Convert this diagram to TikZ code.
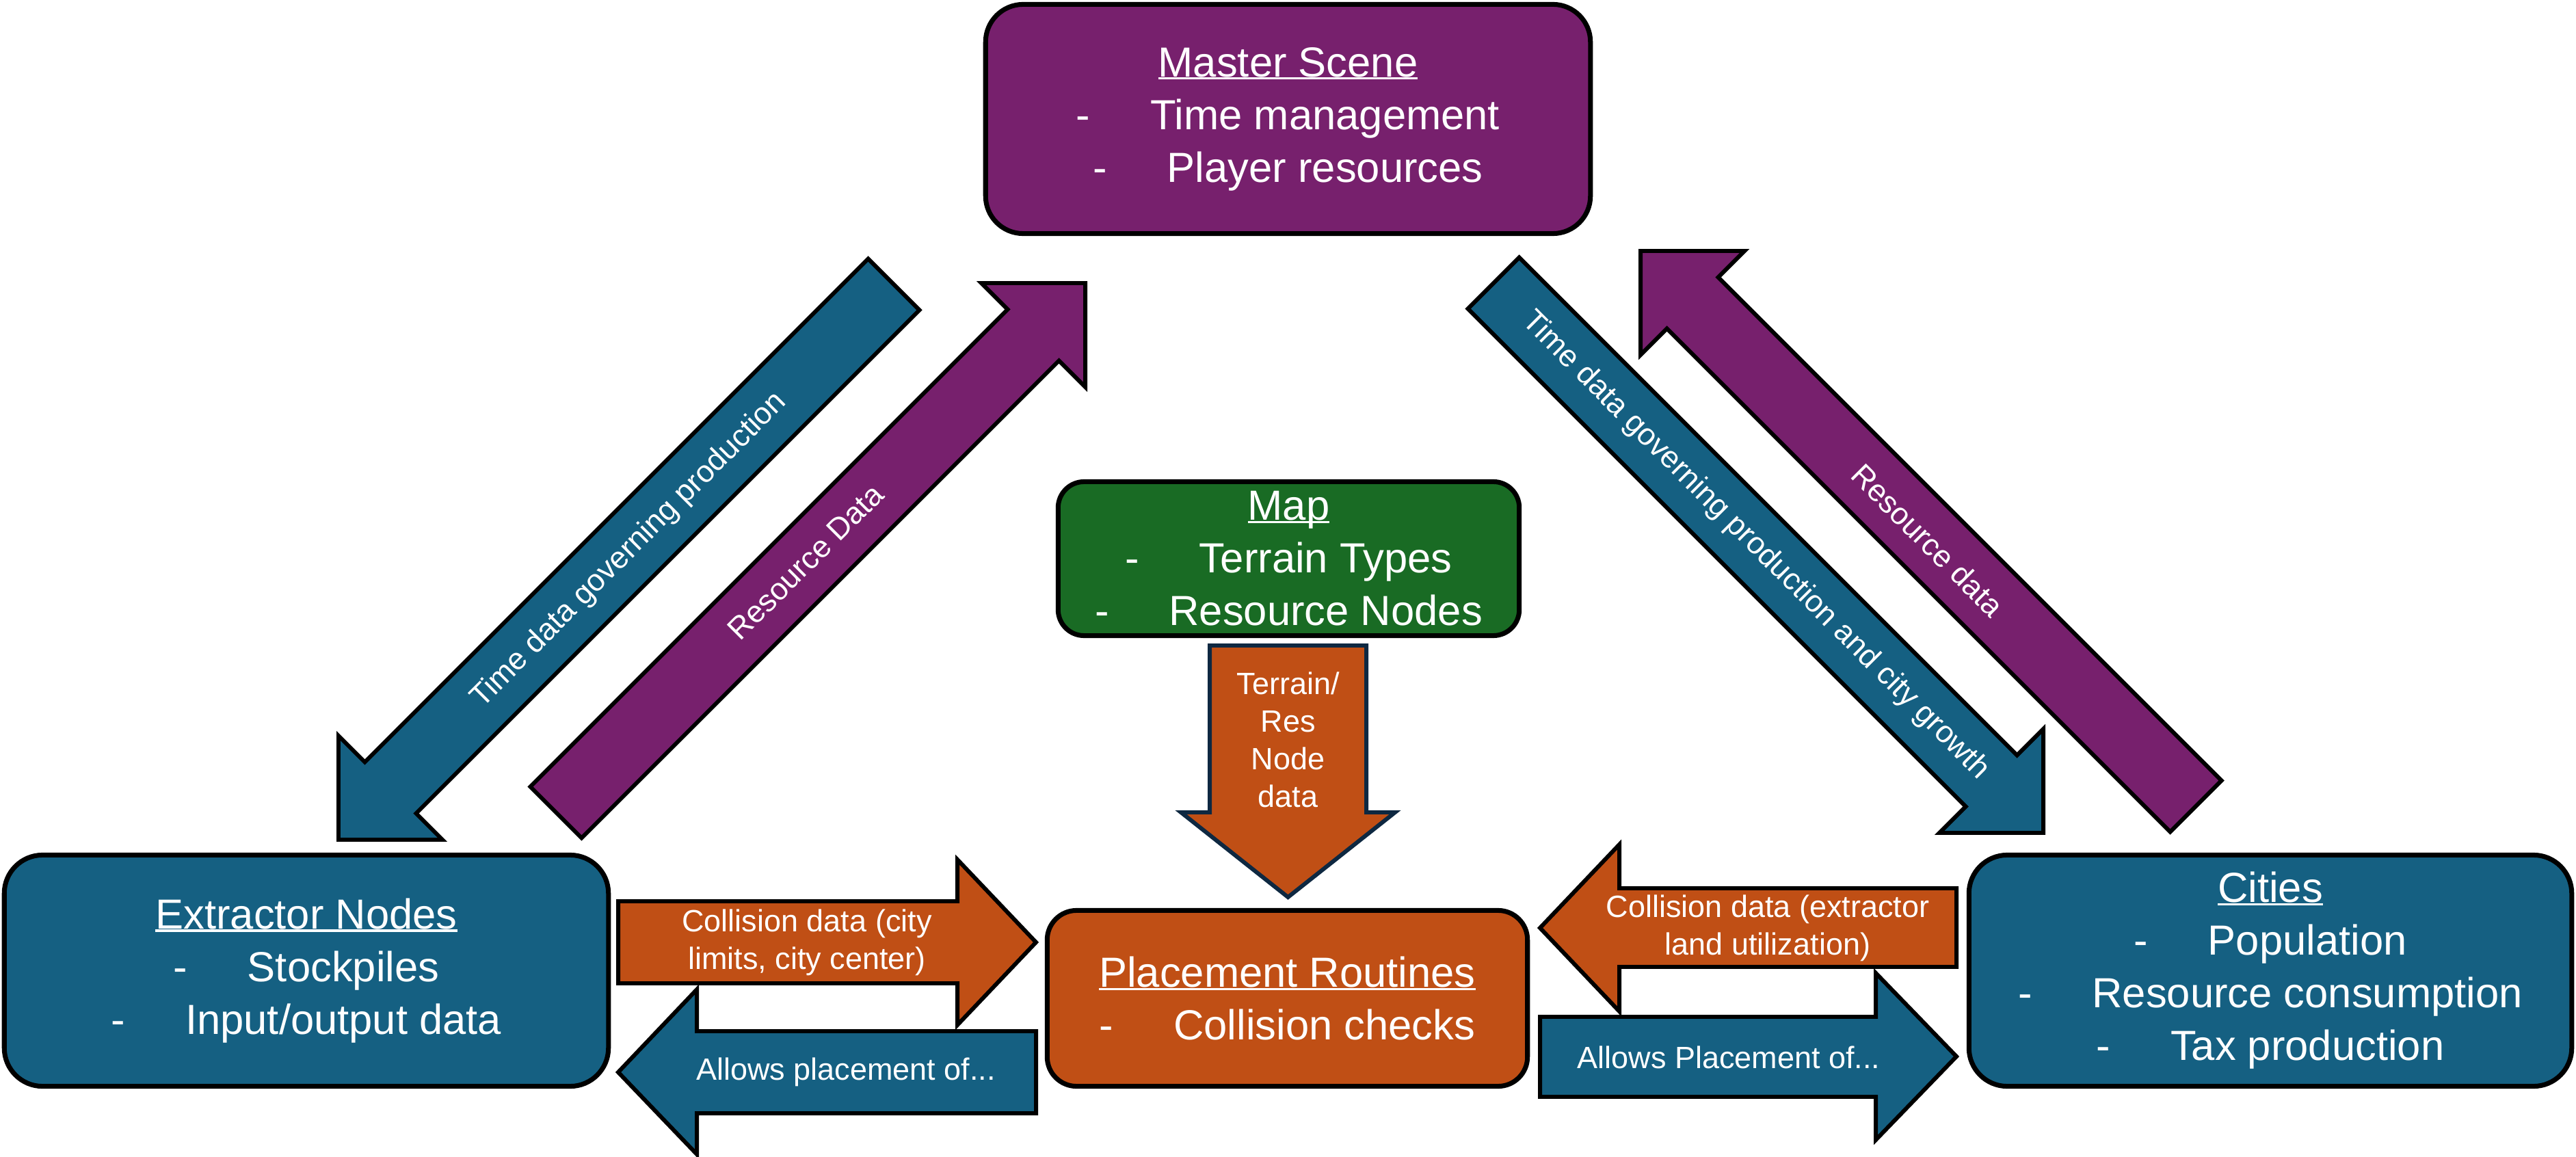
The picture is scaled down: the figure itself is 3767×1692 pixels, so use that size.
\documentclass[tikz,border=0pt]{standalone}
\usepackage{fontspec}
\setmainfont{Liberation Sans}
\definecolor{ppurple}{HTML}{77206D}
\definecolor{pblue}{HTML}{156082}
\definecolor{porange}{HTML}{C04F15}
\definecolor{pgreen}{HTML}{196B24}
\definecolor{pnavy}{HTML}{0E2841}
\newcommand\bigtxt{\fontsize{17.5pt}{21.9pt}\selectfont}
\newcommand\smtxt{\fontsize{12.8pt}{15.6pt}\selectfont}
\newsavebox\ulbox
\newcommand\myul[1]{\sbox\ulbox{#1}\rlap{\rule[-1.2pt]{\wd\ulbox}{0.9pt}}\usebox\ulbox}
\newcommand\bl[1]{-\hspace{25pt}#1}
\tikzset{
  box/.style={draw=black, line width=2pt, text=white, align=center, font=\bigtxt, inner sep=0pt},
  blockarrow/.style={draw=black, line width=1.7pt, line join=miter},
  arrowtext/.style={text=white, align=center, font=\smtxt, inner sep=0pt},
}
\begin{document}
\begin{tikzpicture}[x=0.01cm,y=-0.01cm]
\useasboundingbox (0,0) rectangle (3767,1692);
\fill[white] (0,0) rectangle (3767,1692);

% boxes
\node[box, fill=ppurple, minimum width=8.84cm, minimum height=3.35cm, rounded corners=0.55cm] (master) at (1883.5,174)
  {\myul{Master Scene}\\ \bl{Time management}\\ \bl{Player resources}};
\node[box, fill=pgreen, minimum width=6.74cm, minimum height=2.25cm, rounded corners=0.38cm] (map) at (1884.5,817)
  {\myul{Map}\\ \bl{Terrain Types}\\ \bl{Resource Nodes}};
\node[box, fill=porange, minimum width=7.02cm, minimum height=2.57cm, rounded corners=0.43cm] (place) at (1882.5,1460)
  {\myul{Placement Routines}\\ \bl{Collision checks}};
\node[box, fill=pblue, minimum width=8.83cm, minimum height=3.38cm, rounded corners=0.56cm] (extr) at (448,1419.5)
  {\myul{Extractor Nodes}\\ \bl{Stockpiles}\\ \bl{Input/output data}};
\node[box, fill=pblue, minimum width=8.81cm, minimum height=3.38cm, rounded corners=0.56cm] (cities) at (3320,1419.5)
  {\myul{Cities}\\ \bl{Population}\\ \bl{Resource consumption}\\ \bl{Tax production}};

% diagonal block arrows
\draw[blockarrow, fill=pblue] (1269.5,378.5) -- (533.5,1114.5) -- (495,1076) -- (495,1228) -- (647,1228) -- (608.5,1189.5) -- (1344.5,453.5) -- cycle;
\node[arrowtext, rotate=45] (t1) at (920,805) {Time data governing production};

\draw[blockarrow, fill=ppurple] (775.5,1150.5) -- (1473.5,452.5) -- (1435,414) -- (1587,414) -- (1587,566) -- (1548.5,527.5) -- (850.5,1225.5) -- cycle;
\node[arrowtext, rotate=45] (t2) at (1178,822) {Resource Data};

\draw[blockarrow, fill=pblue] (2221.5,376.5) -- (2949.5,1104.5) -- (2988,1066) -- (2988,1218) -- (2836,1218) -- (2874.5,1179.5) -- (2146.5,451.5) -- cycle;
\node[arrowtext, rotate=-45] (t3) at (2567,798) {Time data governing production and city growth};

\draw[blockarrow, fill=ppurple] (3248.5,1141.5) -- (2512.5,405.5) -- (2551,367) -- (2399,367) -- (2399,519) -- (2437.5,480.5) -- (3173.5,1216.5) -- cycle;
\node[arrowtext, rotate=-45] (t4) at (2819,790) {Resource data};

% down arrow
\draw[blockarrow, draw=pnavy, fill=porange] (1769,944) -- (1998,944) -- (1998,1188) -- (2040,1188) -- (1883.5,1312) -- (1727,1188) -- (1769,1188) -- cycle;
\node[arrowtext] (t5) at (1883.5,1082) {Terrain/\\Res\\Node\\data};

% horizontal arrows left
\draw[blockarrow, fill=porange] (904,1318) -- (1400,1318) -- (1400,1257) -- (1515,1378) -- (1400,1499) -- (1400,1438) -- (904,1438) -- cycle;
\node[arrowtext] (t6) at (1180,1378) {Collision data (city\\limits, city center)};
\draw[blockarrow, fill=pblue] (1515,1508) -- (1019,1508) -- (1019,1447) -- (904,1568) -- (1019,1688) -- (1019,1628) -- (1515,1628) -- cycle;
\node[arrowtext] (t7) at (1237,1568) {Allows placement of...};

% horizontal arrows right
\draw[blockarrow, fill=porange] (2861,1299) -- (2368,1299) -- (2368,1235) -- (2252,1357) -- (2368,1479) -- (2368,1414) -- (2861,1414) -- cycle;
\node[arrowtext] (t8) at (2585,1357) {Collision data (extractor\\land utilization)};
\draw[blockarrow, fill=pblue] (2252,1487) -- (2743,1487) -- (2743,1423) -- (2861,1545) -- (2743,1667) -- (2743,1604) -- (2252,1604) -- cycle;
\node[arrowtext] (t9) at (2528,1546) {Allows Placement of...};
\end{tikzpicture}
\end{document}
